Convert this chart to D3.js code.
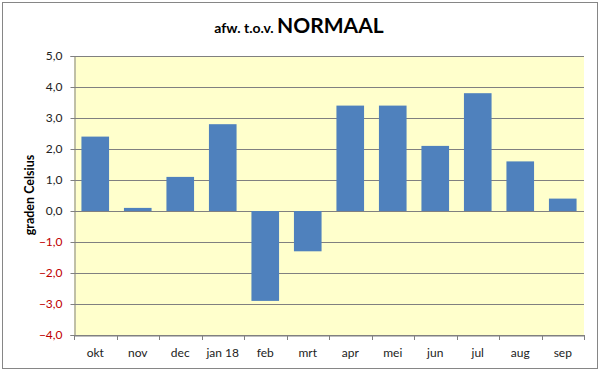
<!DOCTYPE html>
<html>
<head>
<meta charset="utf-8">
<script src="https://d3js.org/d3.v7.min.js"></script>
<style>
  body { margin: 0; background: #fff; }
  text { font-family: Lato, "Open Sans", sans-serif; }
</style>
</head>
<body>
<svg id="canvas"></svg>
<script>
var months = ["okt","nov","dec","jan 18","feb","mrt","apr","mei","jun","jul","aug","sep"];
var afwijking = [2.4, 0.1, 1.1, 2.8, -2.9, -1.3, 3.4, 3.4, 2.1, 3.8, 1.6, 0.4];
var yTicks = [-4, -3, -2, -1, 0, 1, 2, 3, 4, 5];

var width = 600, height = 371;
var plot = {left: 74, right: 584, top: 56, bottom: 335};

var svg = d3.select("#canvas").attr("width", width).attr("height", height);

// outer border
svg.append("rect")
  .attr("x", 2.5).attr("y", 2.5)
  .attr("width", 595).attr("height", 366)
  .attr("fill", "#fff").attr("stroke", "#868686");

var x = d3.scaleBand().domain(months)
  .range([plot.left, plot.right])
  .paddingInner(0.35).paddingOuter(0.175);
var y = d3.scaleLinear().domain([-4, 5]).range([plot.bottom, plot.top]);

// plot background
svg.append("rect")
  .attr("x", plot.left).attr("y", plot.top)
  .attr("width", plot.right - plot.left).attr("height", plot.bottom - plot.top)
  .attr("fill", "#FFFFCC");

// gridlines
svg.append("g").selectAll("line").data(yTicks).enter().append("line")
  .attr("x1", plot.left).attr("x2", plot.right)
  .attr("y1", function(d) { return Math.round(y(d)) + 0.5; })
  .attr("y2", function(d) { return Math.round(y(d)) + 0.5; })
  .attr("stroke", "#808080");

// bars
svg.append("g").selectAll("rect").data(afwijking).enter().append("rect")
  .attr("x", function(d, i) { return x(months[i]); })
  .attr("width", x.bandwidth())
  .attr("y", function(d) { return y(Math.max(0, d)); })
  .attr("height", function(d) { return Math.abs(y(d) - y(0)); })
  .attr("fill", "#4F81BD");

// y axis
var yAxis = svg.append("g")
  .attr("transform", "translate(" + (plot.left + 0.5) + ",0)")
  .call(d3.axisLeft(y).tickValues(yTicks).tickSize(4).tickPadding(8)
    .tickFormat(function(d) { return d3.format(".1f")(d).replace(".", ","); }));
yAxis.select(".domain").attr("stroke", "#808080");
yAxis.selectAll(".tick line").attr("stroke", "#808080");
yAxis.selectAll(".tick text")
  .style("font-size", "12px")
  .attr("fill", function(d) { return d < 0 ? "#C00000" : "#222"; });

// x axis
var xAxis = svg.append("g")
  .attr("transform", "translate(0," + (plot.bottom + 0.5) + ")")
  .call(d3.axisBottom(x).tickSize(0).tickPadding(13));
xAxis.select(".domain").attr("stroke", "#808080");
xAxis.selectAll(".tick text").style("font-size", "12px").attr("fill", "#222");
// category separators
svg.append("g").selectAll("line").data(d3.range(months.length + 1)).enter().append("line")
  .attr("x1", function(i) { return Math.round(plot.left + i * x.step()) + 0.5; })
  .attr("x2", function(i) { return Math.round(plot.left + i * x.step()) + 0.5; })
  .attr("y1", plot.bottom).attr("y2", plot.bottom + 5)
  .attr("stroke", "#808080");

// title
var title = svg.append("text")
  .attr("x", 299).attr("y", 33)
  .attr("text-anchor", "middle")
  .style("font-weight", "bold").attr("fill", "#000");
title.append("tspan").text("afw. t.o.v. ").style("font-size", "14px");
title.append("tspan").text("NORMAAL").style("font-size", "21px");

// y title
svg.append("text")
  .attr("transform", "translate(34,195) rotate(-90)")
  .attr("text-anchor", "middle")
  .style("font-size", "12.5px").style("font-weight", "bold")
  .text("graden Celsius");
</script>
</body>
</html>
